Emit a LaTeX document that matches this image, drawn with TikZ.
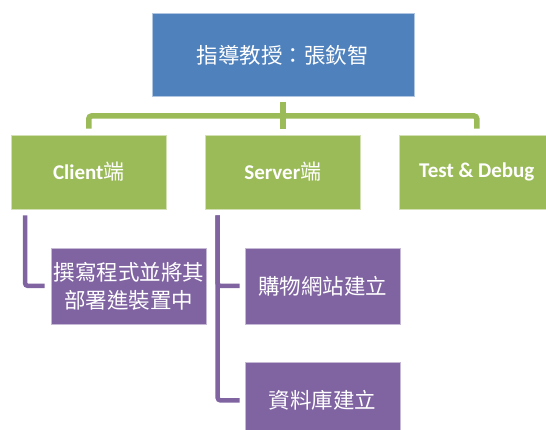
\documentclass[tikz,border=0pt]{standalone}
\usepackage{fontspec}
\setmainfont{Carlito}
\newfontfamily\cjk{Noto Sans CJK TC}
\usetikzlibrary{positioning, calc}

\definecolor{chartblue}{HTML}{4F81BD}
\definecolor{chartgreen}{HTML}{9BBB59}
\definecolor{chartpurple}{HTML}{8064A2}

\begin{document}
\begin{tikzpicture} [
    x = 1pt, y = 1pt,
    node distance = 117pt and 194pt,
    on grid,
    box/.style = {draw = white!55!#1, fill = #1, line width = 0.6pt,
        text = white, align = center, inner sep = 0pt,
        font = \fontsize{21.5}{28}\selectfont},
    leader/.style = {box = chartblue, minimum width = 262pt, minimum height = 83.5pt},
    part/.style = {box = chartgreen, minimum width = 155pt, minimum height = 74pt,
        font = \fontsize{21}{28}\selectfont\bfseries},
    job/.style = {box = chartpurple, minimum width = 155pt, minimum height = 76pt},
    greenwire/.style = {draw = chartgreen, line width = 5.5pt, rounded corners = 3pt},
    purplewire/.style = {draw = chartpurple, line width = 4.5pt, rounded corners = 3pt}]

\useasboundingbox (0,0) rectangle (546,430);
\clip (0,0) rectangle (546,430);

% Root
\node (boss) [leader] at (282.8,375) {\cjk 指導教授：張欽智};

% Parts
\node (server) [part,
    below = of boss] {Server{\cjk\mdseries 端}};

\node (client) [part,
    left = of server] {Client{\cjk\mdseries 端}};

\node (test) [part,
    right = of server] {Test \& Debug};

% Jobs
\node (write) [job,
    below right = 114pt and 40pt of client] {\cjk 撰寫程式並將其\\\cjk 部署進裝置中};

\node (shop) [job,
    below right = 114pt and 39.7pt of server] {\cjk 購物網站建立};

\node (db) [job,
    below = 114.5pt of shop] {\cjk 資料庫建立};

% Wires
\coordinate (bus) at ($(boss.south)!0.5!(server.north)$);

\draw [greenwire, shorten <= 4.5pt, shorten >= 6pt] (boss.south) -- (server.north);
\draw [greenwire, shorten <= 6pt, shorten >= 6pt] (client.north) |- (bus) -| (test.north);

\draw [purplewire, shorten <= 6pt, shorten >= 6.5pt]
    ([xshift = 14pt]client.south west) |- (write.west);
\draw [purplewire, shorten <= 6pt, shorten >= 5pt]
    ([xshift = 12.6pt]server.south west) |- (shop.west);
\draw [purplewire, shorten <= 6pt, shorten >= 5pt]
    ([xshift = 12.6pt]server.south west) |- (db.west);
\end{tikzpicture}
\end{document}
